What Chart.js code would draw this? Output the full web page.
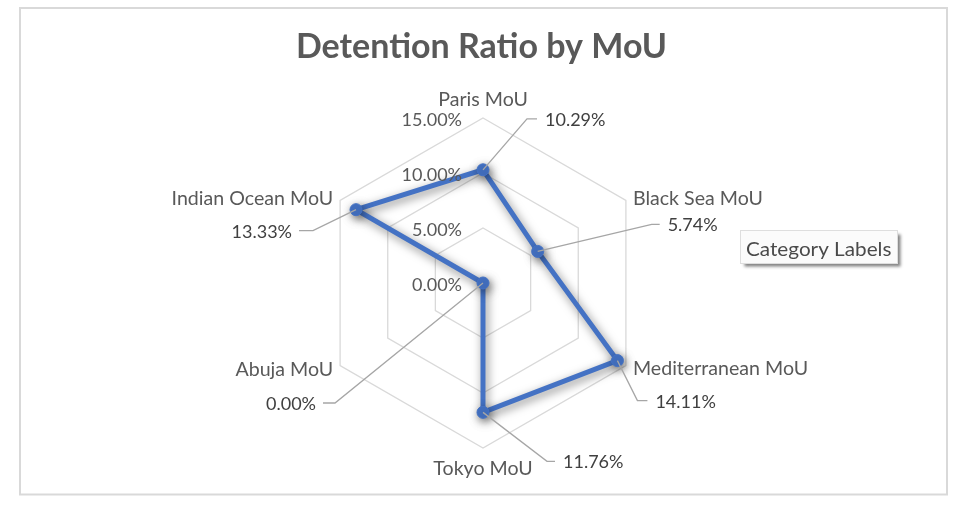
<!DOCTYPE html>
<html><head><meta charset="utf-8">
<script src="https://cdn.jsdelivr.net/npm/chart.js@4/dist/chart.umd.min.js"></script>
<style>html,body{margin:0;padding:0;background:#fff;} #wrap{width:961px;height:506px;position:relative;}</style>
</head><body><div id="wrap"><canvas id="c"></canvas></div>
<script>
// ---- data ----
const categories = ['Paris MoU', 'Black Sea MoU', 'Mediterranean MoU', 'Tokyo MoU', 'Abuja MoU', 'Indian Ocean MoU'];
const detentionRatio = [10.29, 5.74, 14.11, 11.76, 0.00, 13.33];
const tickValues = [0, 5, 10, 15];
const chartTitle = 'Detention Ratio by MoU';
const legendText = 'Category Labels';

// ---- styling / layout (not data) ----
const FONT = 'Lato, "Open Sans", sans-serif';
// leader line elbow offsets relative to the data point, and horizontal tail length
const leaderElbow = [[44, -51], [114, -27], [20, 40], [64, 49], [-148, 120], [-43, 21]];
const leaderTail = [10, 8, 10, 8, -12, -14];
// point-label offsets relative to the outer vertex: [dx, dyBaseline, align]
const catLabelPos = [[0, -12.5, 'center'], [7, 4, 'left'], [7, 9, 'left'], [0, 26.5, 'center'], [-7, 10, 'right'], [-7, 4, 'right']];

function txt(ctx, text, x, y, align, size, weight, color, sx) {
  ctx.save();
  ctx.font = weight + ' ' + size + 'px ' + FONT;
  ctx.fillStyle = color;
  ctx.textBaseline = 'alphabetic';
  ctx.textAlign = align;
  ctx.translate(x, y);
  ctx.scale(sx || 1, 1);
  ctx.fillText(text, 0, 0);
  ctx.restore();
}
const pct = v => v.toFixed(2) + '%';

const overlay = {
  id: 'overlay',
  beforeDraw(chart) {
    const ctx = chart.ctx;
    ctx.save();
    ctx.fillStyle = '#fff';
    ctx.fillRect(0, 0, chart.width, chart.height);
    ctx.strokeStyle = '#d9d9d9';
    ctx.lineWidth = 2;
    ctx.strokeRect(20, 8, 927, 486.5);
    ctx.restore();
  },
  beforeDatasetDraw(chart) {
    const ctx = chart.ctx;
    ctx.save();
    ctx.shadowColor = 'rgba(0,0,0,0.5)';
    ctx.shadowBlur = 10;
    ctx.shadowOffsetX = 2;
    ctx.shadowOffsetY = 3;
  },
  afterDatasetDraw(chart) {
    chart.ctx.restore();
  },
  afterDraw(chart) {
    const ctx = chart.ctx;
    const r = chart.scales.r;
    // title
    txt(ctx, chartTitle, chart.width / 2 + 1, 58, 'center', 34, 'bold', '#595959', 1);
    // tick labels
    tickValues.forEach(v => {
      const p = r.getPointPositionForValue(0, v);
      txt(ctx, pct(v), p.x - 21, p.y + 8, 'right', 18, 'normal', '#595959', 1);
    });
    // category labels
    categories.forEach((c, i) => {
      const p = r.getPointPositionForValue(i, r.max);
      const o = catLabelPos[i];
      txt(ctx, c, p.x + o[0], p.y + o[1], o[2], 18.5, 'normal', '#595959', 1.06);
    });
    // data labels with leader lines
    const meta = chart.getDatasetMeta(0);
    meta.data.forEach((pt, i) => {
      const e = leaderElbow[i];
      const ex = pt.x + e[0], ey = pt.y + e[1];
      const tx = ex + leaderTail[i];
      ctx.save();
      ctx.strokeStyle = '#a6a6a6';
      ctx.lineWidth = 1.3;
      ctx.beginPath();
      ctx.moveTo(pt.x, pt.y);
      ctx.lineTo(ex, ey);
      ctx.lineTo(tx, ey);
      ctx.stroke();
      ctx.restore();
      const right = leaderTail[i] < 0;
      txt(ctx, pct(detentionRatio[i]), right ? tx - 7 : tx + 8, ey + 7, right ? 'right' : 'left', 18, 'normal', '#404040', 1);
    });
    // "Category Labels" box
    ctx.save();
    ctx.shadowColor = 'rgba(0,0,0,0.5)';
    ctx.shadowBlur = 3;
    ctx.shadowOffsetX = 3;
    ctx.shadowOffsetY = 3;
    ctx.fillStyle = '#fbfbfb';
    ctx.fillRect(740.5, 230.5, 157, 33);
    ctx.restore();
    ctx.save();
    ctx.strokeStyle = '#dedede';
    ctx.lineWidth = 1;
    ctx.strokeRect(740.5, 230.5, 157, 33);
    ctx.restore();
    txt(ctx, legendText, 746, 256, 'left', 20, 'normal', '#4a4a4a', 1.035);
  }
};

new Chart(document.getElementById('c'), {
  type: 'radar',
  data: {
    labels: categories,
    datasets: [{
      data: detentionRatio,
      borderColor: '#4472C4',
      backgroundColor: '#4472C4',
      borderWidth: 5,
      pointRadius: 6,
      pointBackgroundColor: '#4472C4',
      pointBorderColor: '#4472C4',
      pointBorderWidth: 1,
      fill: false,
      tension: 0
    }]
  },
  options: {
    responsive: true,
    maintainAspectRatio: false,
    animation: false,
    layout: { padding: { left: 318, right: 313, top: 118, bottom: 57 } },
    plugins: { legend: { display: false }, title: { display: false }, tooltip: { enabled: false } },
    scales: {
      r: {
        min: 0, max: 15,
        ticks: { stepSize: 5, display: false },
        grid: { color: '#d9d9d9', lineWidth: 1.3, circular: false },
        angleLines: { display: false },
        pointLabels: { display: false }
      }
    }
  },
  plugins: [overlay]
});
</script></body></html>
